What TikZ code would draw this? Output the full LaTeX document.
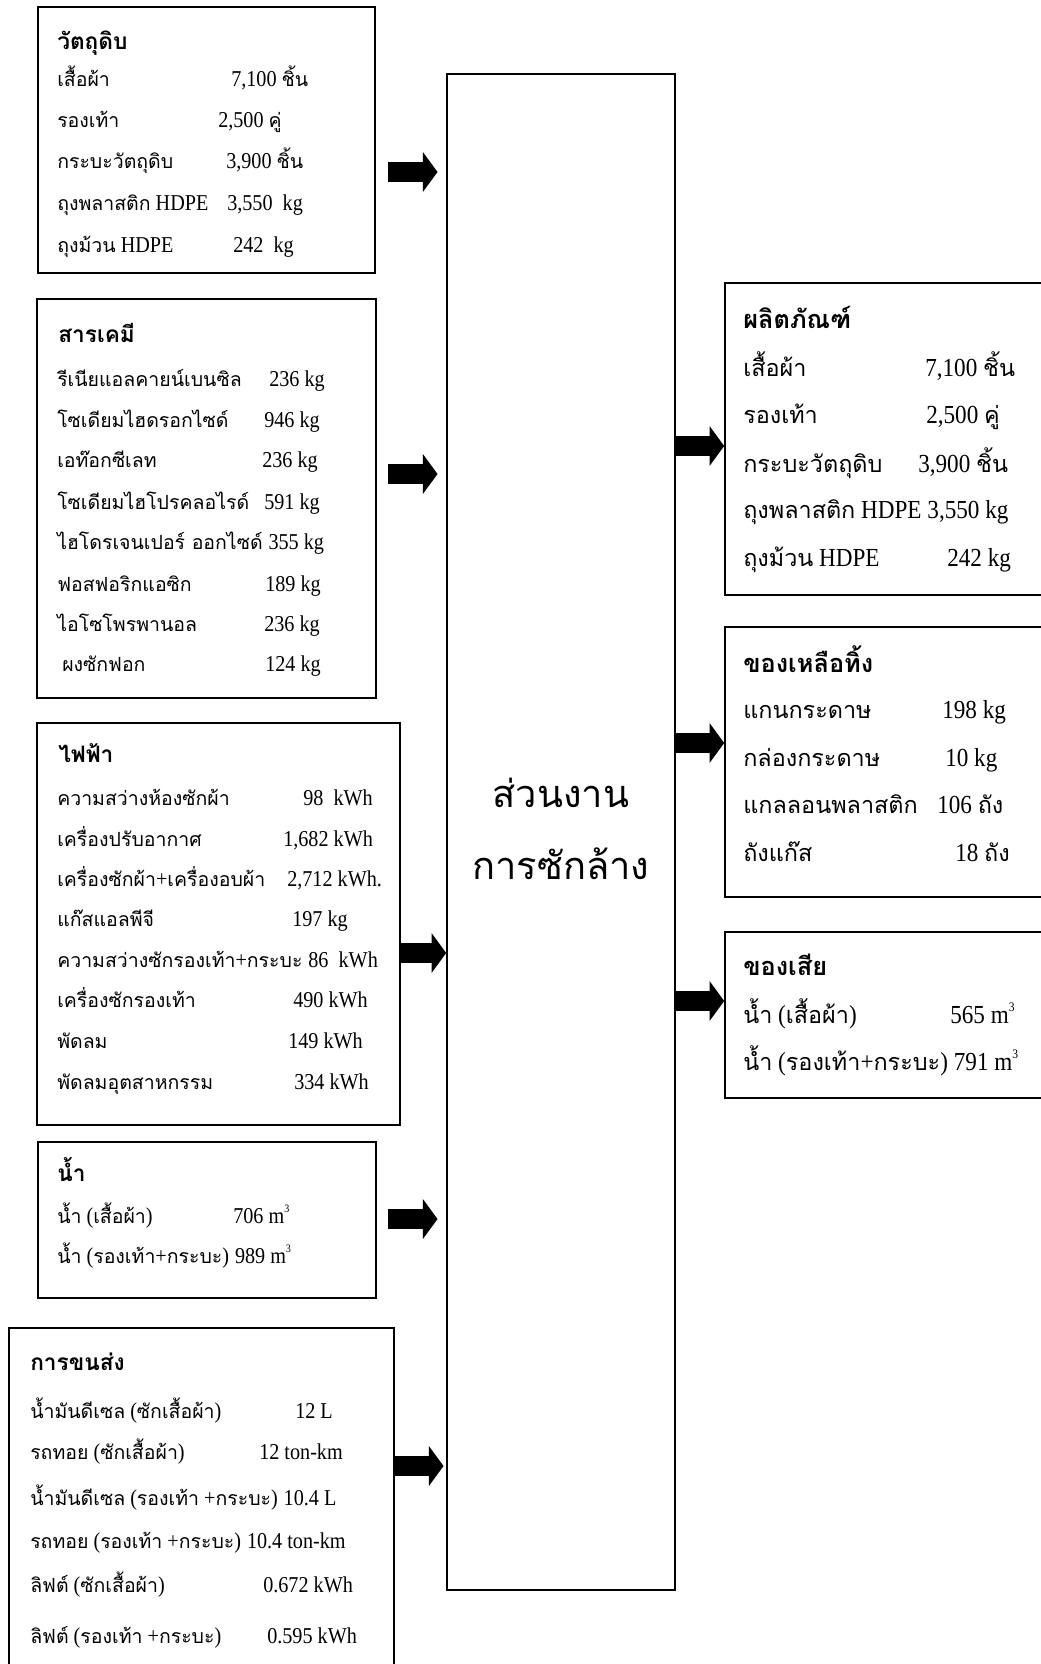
\documentclass[tikz,border=0pt]{standalone}
\usepackage{fontspec}
\setmainfont[FakeStretch=0.89]{Liberation Serif}
\newfontfamily\thai[Script=Thai,Scale=0.86]{Loma}
\newfontfamily\thair[Script=Thai,Scale=0.9]{Loma}
\newfontfamily\thaicore[Script=Thai]{Loma}
\usetikzlibrary{arrows.meta,fit}

\newcommand\leftsize{\fontsize{17pt}{20pt}\selectfont}
\newcommand\rightsize{\fontsize{19.5pt}{23pt}\selectfont\let\thai\thair}
\newcommand\cube{\raisebox{0.45em}{\scalebox{0.5}{3}}}

\begin{document}
\begin{tikzpicture}[x=0.75pt,y=-0.75pt,
  panel/.style={draw=black, line width=1.2pt, inner sep=0pt},
  lrow/.style={anchor=base west, inner sep=0pt, font=\leftsize},
  lhead/.style={anchor=base west, inner sep=0pt, font=\fontsize{17pt}{20pt}\selectfont\thaicore\bfseries},
  rrow/.style={anchor=base west, inner sep=0pt, font=\rightsize},
  rhead/.style={anchor=base west, inner sep=0pt, font=\fontsize{19pt}{23pt}\selectfont\thaicore\bfseries},
  after/.style={anchor=base west, inner sep=0pt, xshift=4pt},
  coretext/.style={anchor=base, inner sep=0pt, font=\fontsize{28.5pt}{34pt}\selectfont\thaicore},
  flow/.style={line width=15pt, -{Triangle[length=11pt, width=30pt, line width=0pt]}}]

\path[use as bounding box] (0,0) rectangle (1041,1664);
\clip (0,0) rectangle (1041,1664);
\fill[white] (0,0) rectangle (1041,1664);

% ---------- process ----------
\node[panel, fit={(447,74) (675,1590)}] (core) {};
\node[coretext] (core1) at (561,807) {ส่วนงาน};
\node[coretext] (core2) at (561,879) {การซักล้าง};

% ---------- inputs ----------
\node[panel, fit={(38,7) (375,273)}] (raw) {};
\node[lhead] (rawh) at (57,49) {วัตถุดิบ};
\node[lrow] (raw1l) at (57,86)  {\thai เสื้อผ้า};
\node[lrow] (raw1v) at (231,86) {7,100 {\thai ชิ้น}};
\node[lrow] (raw2l) at (57,127) {\thai รองเท้า};
\node[lrow] (raw2v) at (218,127) {2,500 {\thai คู่}};
\node[lrow] (raw3l) at (57,168) {\thai กระบะวัตถุดิบ};
\node[lrow] (raw3v) at (226,168) {3,900 {\thai ชิ้น}};
\node[lrow] (raw4l) at (57,210) {{\thai ถุงพลาสติก} HDPE};
\node[lrow] (raw4v) at (227,210) {3,550\ \ kg};
\node[lrow] (raw5l) at (57,252) {{\thai ถุงม้วน} HDPE};
\node[lrow] (raw5v) at (233,252) {242\ \ kg};

\node[panel, fit={(37,299) (376,698)}] (chem) {};
\node[lhead] (chemh) at (58,342) {สารเคมี};
\node[lrow] (chem1l) at (57,386) {\thai รีเนียแอลคายน์เบนซิล};
\node[lrow] (chem1v) at (269,386) {236 kg};
\node[lrow] (chem2l) at (57,427) {\thai โซเดียมไฮดรอกไซด์};
\node[lrow] (chem2v) at (264,427) {946 kg};
\node[lrow] (chem3l) at (57,467) {\thai เอท๊อกซีเลท};
\node[lrow] (chem3v) at (262,467) {236 kg};
\node[lrow] (chem4l) at (57,509) {\thai โซเดียมไฮโปรคลอไรด์};
\node[lrow] (chem4v) at (264,509) {591 kg};
\node[lrow] (chem5l) at (57,549) {\thai ไฮโดรเจนเปอร์ ออกไซด์};
\node[lrow, after] (chem5v) at (chem5l.base east) {355 kg};
\node[lrow] (chem6l) at (57,591) {\thai ฟอสฟอริกแอซิก};
\node[lrow] (chem6v) at (265,591) {189 kg};
\node[lrow] (chem7l) at (57,631) {\thai ไอโซโพรพานอล};
\node[lrow] (chem7v) at (264,631) {236 kg};
\node[lrow] (chem8l) at (62,671) {\thai ผงซักฟอก};
\node[lrow] (chem8v) at (265,671) {124 kg};

\node[panel, fit={(37,723) (400,1125)}] (elec) {};
\node[lhead] (elech) at (58,762) {ไฟฟ้า};
\node[lrow] (elec1l) at (57,805)  {\thai ความสว่างห้องซักผ้า};
\node[lrow] (elec1v) at (303,805) {98\ \ kWh};
\node[lrow] (elec2l) at (57,846)  {\thai เครื่องปรับอากาศ};
\node[lrow] (elec2v) at (283,846) {1,682 kWh};
\node[lrow] (elec3l) at (57,886)  {{\thai เครื่องซักผ้า}+{\thai เครื่องอบผ้า}};
\node[lrow] (elec3v) at (287,886) {2,712 kWh.};
\node[lrow] (elec4l) at (57,926)  {\thai แก๊สแอลพีจี};
\node[lrow] (elec4v) at (292,926) {197 kg};
\node[lrow] (elec5l) at (57,967)  {{\thai ความสว่างซักรองเท้า}+{\thai กระบะ}};
\node[lrow, after] (elec5v) at (elec5l.base east) {86\ \ kWh};
\node[lrow] (elec6l) at (57,1007) {\thai เครื่องซักรองเท้า};
\node[lrow] (elec6v) at (293,1007) {490 kWh};
\node[lrow] (elec7l) at (57,1048) {\thai พัดลม};
\node[lrow] (elec7v) at (288,1048) {149 kWh};
\node[lrow] (elec8l) at (57,1089) {\thai พัดลมอุตสาหกรรม};
\node[lrow] (elec8v) at (294,1089) {334 kWh};

\node[panel, fit={(38,1142) (376,1298)}] (water) {};
\node[lhead] (waterh) at (57,1181) {น้ำ};
\node[lrow] (water1l) at (57,1223) {{\thai น้ำ} ({\thai เสื้อผ้า})};
\node[lrow] (water1v) at (233,1223) {706 m\cube};
\node[lrow] (water2l) at (57,1263) {{\thai น้ำ} ({\thai รองเท้า}+{\thai กระบะ})};
\node[lrow, after] (water2v) at (water2l.base east) {989 m\cube};

\node[panel, fit={(9,1328) (394,1700)}] (trans) {};
\node[lhead] (transh) at (30,1370) {การขนส่ง};
\node[lrow] (trans1l) at (30,1418) {{\thai น้ำมันดีเซล} ({\thai ซักเสื้อผ้า})};
\node[lrow] (trans1v) at (295,1418) {12 L};
\node[lrow] (trans2l) at (30,1459) {{\thai รถทอย} ({\thai ซักเสื้อผ้า})};
\node[lrow] (trans2v) at (259,1459) {12 ton-km};
\node[lrow] (trans3l) at (30,1505) {{\thai น้ำมันดีเซล} ({\thai รองเท้า} +{\thai กระบะ})};
\node[lrow, after] (trans3v) at (trans3l.base east) {10.4 L};
\node[lrow] (trans4l) at (30,1548) {{\thai รถทอย} ({\thai รองเท้า} +{\thai กระบะ})};
\node[lrow, after] (trans4v) at (trans4l.base east) {10.4 ton-km};
\node[lrow] (trans5l) at (30,1592) {{\thai ลิฟต์} ({\thai ซักเสื้อผ้า})};
\node[lrow] (trans5v) at (263,1592) {0.672 kWh};
\node[lrow] (trans6l) at (30,1643) {{\thai ลิฟต์} ({\thai รองเท้า} +{\thai กระบะ})};
\node[lrow] (trans6v) at (267,1643) {0.595 kWh};

% ---------- outputs ----------
\node[panel, fit={(725,283) (1060,595)}] (prod) {};
\node[rhead] (prodh) at (743,328) {ผลิตภัณฑ์};
\node[rrow] (prod1l) at (743,376) {\thai เสื้อผ้า};
\node[rrow] (prod1v) at (925,376) {7,100 {\thai ชิ้น}};
\node[rrow] (prod2l) at (743,423) {\thai รองเท้า};
\node[rrow] (prod2v) at (926,423) {2,500 {\thai คู่}};
\node[rrow] (prod3l) at (743,472) {\thai กระบะวัตถุดิบ};
\node[rrow] (prod3v) at (918,472) {3,900 {\thai ชิ้น}};
\node[rrow] (prod4l) at (743,518) {{\thai ถุงพลาสติก} HDPE};
\node[rrow, after] (prod4v) at (prod4l.base east) {3,550 kg};
\node[rrow] (prod5l) at (743,566) {{\thai ถุงม้วน} HDPE};
\node[rrow] (prod5v) at (947,566) {242 kg};

\node[panel, fit={(725,627) (1060,897)}] (scrap) {};
\node[rhead] (scraph) at (743,672) {ของเหลือทิ้ง};
\node[rrow] (scrap1l) at (743,718) {\thai แกนกระดาษ};
\node[rrow] (scrap1v) at (942,718) {198 kg};
\node[rrow] (scrap2l) at (743,766) {\thai กล่องกระดาษ};
\node[rrow] (scrap2v) at (945,766) {10 kg};
\node[rrow] (scrap3l) at (743,813) {\thai แกลลอนพลาสติก};
\node[rrow] (scrap3v) at (937,813) {106 {\thai ถัง}};
\node[rrow] (scrap4l) at (743,861) {\thai ถังแก๊ส};
\node[rrow] (scrap4v) at (955,861) {18 {\thai ถัง}};

\node[panel, fit={(725,932) (1060,1098)}] (waste) {};
\node[rhead] (wasteh) at (743,975) {ของเสีย};
\node[rrow] (waste1l) at (743,1023) {{\thai น้ำ} ({\thai เสื้อผ้า})};
\node[rrow] (waste1v) at (950,1023) {565 m\cube};
\node[rrow] (waste2l) at (743,1070) {{\thai น้ำ} ({\thai รองเท้า}+{\thai กระบะ})};
\node[rrow, after] (waste2v) at (waste2l.base east) {791 m\cube};

% ---------- flows ----------
\coordinate (in1) at (388,172);
\coordinate (in2) at (388,474);
\coordinate (in3) at (elec.east |- 0,953);
\coordinate (in4) at (388,1219);
\coordinate (in5) at (395,1466);
\draw[flow, shorten >=6.5pt] (in1) -- (in1 -| core.west);
\draw[flow, shorten >=6.5pt] (in2) -- (in2 -| core.west);
\draw[flow] (in3) -- (in3 -| core.west);
\draw[flow, shorten >=6.5pt] (in4) -- (in4 -| core.west);
\draw[flow, shorten >=2pt] (in5) -- (in5 -| core.west);

\coordinate (out1) at (core.east |- 0,446);
\coordinate (out2) at (core.east |- 0,743);
\coordinate (out3) at (core.east |- 0,1001);
\draw[flow] (out1) -- (out1 -| prod.west);
\draw[flow] (out2) -- (out2 -| scrap.west);
\draw[flow] (out3) -- (out3 -| waste.west);
\end{tikzpicture}
\end{document}
